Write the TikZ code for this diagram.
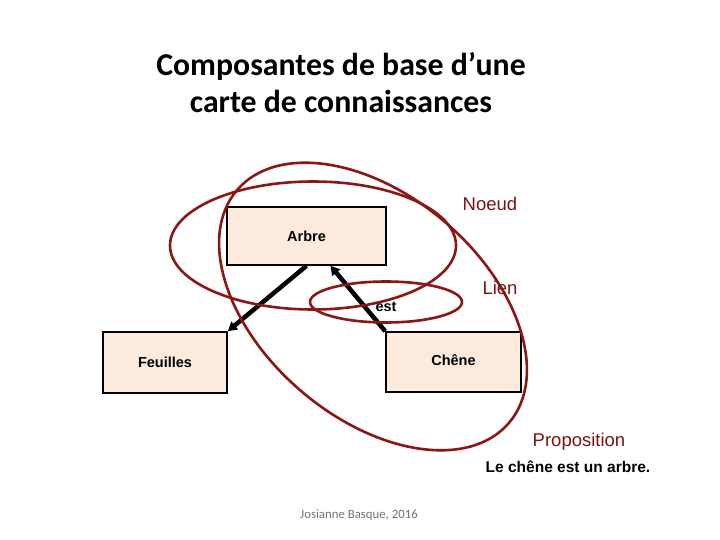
\documentclass[tikz,border=0pt]{standalone}
\usepackage{fontspec}
\setmainfont{Liberation Sans}
\newfontfamily\titlefont{Carlito}
\usetikzlibrary{arrows.meta,calc}
\definecolor{dred}{RGB}{139,22,22}
\definecolor{dredtxt}{RGB}{120,20,20}
\definecolor{peach}{RGB}{252,234,220}
\tikzset{
  concept/.style={draw=black, line width=1.6pt, fill=peach, inner sep=0pt,
    font=\fontsize{14.5}{16}\selectfont\bfseries},
  link/.style={line width=4.5pt, -{Triangle[length=9pt,width=10pt]}},
  ring/.style={draw=dred, line width=2.6pt},
  tag/.style={text=dredtxt, font=\fontsize{18.5}{20}\selectfont},
}
\begin{document}
\begin{tikzpicture}[x=1pt,y=-1pt]
\useasboundingbox (0,0) rectangle (720,540);
% title
\node[font=\titlefont\bfseries\fontsize{31.8}{37}\selectfont, align=center] (title) at (341,83)
  {Composantes de base d’une\\carte de connaissances};
% concepts
\node[concept, minimum width=159pt, minimum height=58pt] (Arbre) at (306.5,236) {\raisebox{-4pt}{Arbre}};
\node[concept, minimum width=124pt, minimum height=61pt] (Feuilles) at (165,362.5) {\raisebox{-3pt}{Feuilles}};
\node[concept, minimum width=135pt, minimum height=60pt] (Chene) at (453.5,362) {\raisebox{3pt}{Chêne}};
% links
\draw[link] (Arbre.south) -- (Feuilles.north east);
\draw[link] (Chene.north west) -- ([xshift=24pt]Arbre.south);
\node[font=\fontsize{14.5}{16}\selectfont\bfseries] (est) at (386,307) {est};
% rings
\draw[ring] (313,245.5) ellipse [x radius=143, y radius=64];
\draw[ring] (386,302) ellipse [x radius=76, y radius=20.5];
\draw[ring, rotate around={-40.6:(373,306.5)}] (373,306.5) ellipse [x radius=179, y radius=111];
% labels
\node[tag] (noeud) at (490,204) {Noeud};
\node[tag] (lien) at (500,288) {Lien};
\node[tag] (prop) at (579,442) {Proposition};
\node[font=\fontsize{15.5}{17}\selectfont\bfseries] (phrase) at (568,467) {Le chêne est un arbre.};
\node[font=\titlefont\fontsize{12.8}{14}\selectfont, text=black!55] (credit) at (359,515) {Josianne Basque, 2016};
\end{tikzpicture}
\end{document}
